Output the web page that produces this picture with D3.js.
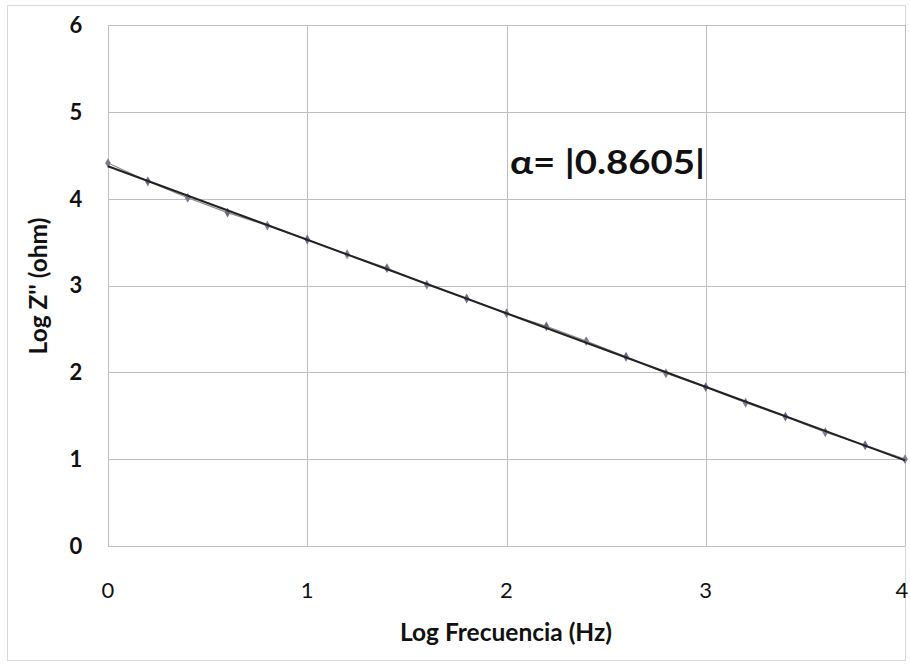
<!DOCTYPE html>
<html>
<head>
<meta charset="utf-8">
<script src="https://cdn.jsdelivr.net/npm/d3@7"></script>
<style>
  body { margin: 0; background: #fff; }
  svg { display: block; font-family: Lato, "Open Sans", sans-serif; }
</style>
</head>
<body>
<svg id="chart"></svg>
<script>
// Log frequency (Hz) and Log Z'' (ohm)
const logFreq = [0, 0.2, 0.4, 0.6, 0.8, 1.0, 1.2, 1.4, 1.6, 1.8, 2.0,
                 2.2, 2.4, 2.6, 2.8, 3.0, 3.2, 3.4, 3.6, 3.8, 4.0];
const logZ = [4.41, 4.20, 4.01, 3.84, 3.69, 3.53, 3.36, 3.20, 3.01, 2.85, 2.68,
              2.53, 2.36, 2.18, 1.99, 1.83, 1.65, 1.49, 1.31, 1.16, 1.00];
const xTicks = [0, 1, 2, 3, 4];
const yTicks = [0, 1, 2, 3, 4, 5, 6];
const alphaLabel = "α= |0.8605|";

const width = 910;
const height = 664;
const margin = { top: 25, right: 5, bottom: 118, left: 108 };

const svg = d3.select("#chart")
    .attr("width", width)
    .attr("height", height);

// outer chart border
svg.append("rect")
    .attr("x", 7.5).attr("y", 5.5)
    .attr("width", width - 12).attr("height", height - 9)
    .attr("fill", "none")
    .attr("stroke", "#d9d9d9");

const x = d3.scaleLinear().domain([0, 4]).range([margin.left, width - margin.right]);
const y = d3.scaleLinear().domain([0, 6]).range([height - margin.bottom, margin.top]);

// grid lines
svg.append("g")
    .selectAll("line")
    .data(yTicks)
    .join("line")
    .attr("x1", x(0)).attr("x2", x(4))
    .attr("y1", d => Math.round(y(d)) + 0.5).attr("y2", d => Math.round(y(d)) + 0.5)
    .attr("stroke", "#bfbfbf");

svg.append("g")
    .selectAll("line")
    .data(xTicks)
    .join("line")
    .attr("x1", d => Math.round(x(d)) + 0.5).attr("x2", d => Math.round(x(d)) + 0.5)
    .attr("y1", y(0)).attr("y2", y(6))
    .attr("stroke", "#bfbfbf");

// tick labels
svg.append("g")
    .selectAll("text")
    .data(yTicks)
    .join("text")
    .attr("x", 76)
    .attr("y", d => y(d))
    .attr("dy", "0.36em")
    .attr("text-anchor", "middle")
    .attr("font-size", 22)
    .attr("font-weight", "bold")
    .attr("fill", "#111")
    .text(d => d);

svg.append("g")
    .selectAll("text")
    .data(xTicks)
    .join("text")
    .attr("x", d => x(d) - (d === 4 ? 3 : 0))
    .attr("y", 590)
    .attr("dy", "0.36em")
    .attr("text-anchor", "middle")
    .attr("font-size", 22)
    .attr("fill", "#111")
    .text(d => d);

// axis titles
svg.append("text")
    .attr("x", 506).attr("y", 632)
    .attr("dy", "0.36em")
    .attr("text-anchor", "middle")
    .attr("font-size", 24.5)
    .attr("font-weight", "bold")
    .attr("fill", "#111")
    .text("Log Frecuencia (Hz)");

svg.append("text")
    .attr("transform", "translate(38,286) rotate(-90)")
    .attr("dy", "0.36em")
    .attr("text-anchor", "middle")
    .attr("font-size", 24.5)
    .attr("font-weight", "bold")
    .attr("fill", "#111")
    .text("Log Z'' (ohm)");

// data series
const pts = logFreq.map((f, i) => [f, logZ[i]]);
svg.append("path")
    .datum(pts)
    .attr("fill", "none")
    .attr("stroke", "#8a8a8a")
    .attr("stroke-width", 1.2)
    .attr("d", d3.line().x(d => x(d[0])).y(d => y(d[1])));

svg.append("g")
    .selectAll("path")
    .data(pts)
    .join("path")
    .attr("transform", d => `translate(${x(d[0])},${y(d[1])})`)
    .attr("d", d3.symbol(d3.symbolDiamond, 28))
    .attr("fill", (d, i) => i % 2 ? "#6a6a86" : "#7c7c92");

// linear trend line (least squares on the data)
const mx = d3.mean(logFreq), my = d3.mean(logZ);
const slope = d3.sum(pts, d => (d[0] - mx) * (d[1] - my)) / d3.sum(pts, d => (d[0] - mx) ** 2);
const icept = my - slope * mx;
svg.append("line")
    .attr("x1", x(0)).attr("y1", y(icept))
    .attr("x2", x(4)).attr("y2", y(icept + slope * 4))
    .attr("stroke", "#222")
    .attr("stroke-width", 2);

// annotation
svg.append("text")
    .attr("x", 510).attr("y", 162)
    .attr("dy", "0.36em")
    .attr("font-size", 32)
    .attr("font-weight", "bold")
    .attr("fill", "#111")
    .attr("textLength", 195)
    .attr("lengthAdjust", "spacingAndGlyphs")
    .text(alphaLabel);
</script>
</body>
</html>
